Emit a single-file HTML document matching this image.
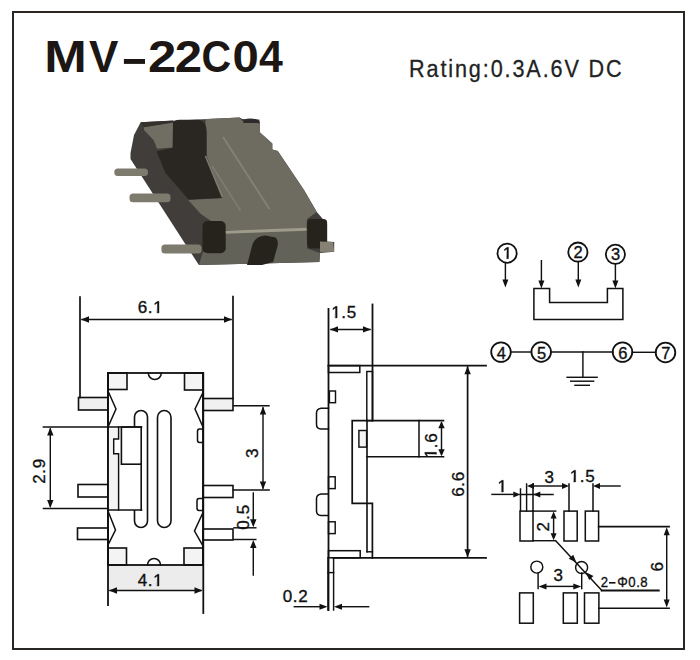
<!DOCTYPE html>
<html><head><meta charset="utf-8">
<style>
html,body{margin:0;padding:0;background:#fff;width:700px;height:660px;overflow:hidden}
svg{display:block}
text{font-family:"Liberation Sans",sans-serif;fill:#111;stroke:none} .one{fill-opacity:0;stroke-opacity:0}
</style></head><body>
<svg width="700" height="660" viewBox="0 0 700 660">
<rect x="13" y="12" width="671" height="637" fill="none" stroke="#2a2624" stroke-width="2"/>
<text x="0" y="0" font-size="45.0" font-weight="bold" style="fill:#1c1714" transform="translate(44.26,72) scale(1.134,1)">M</text>
<text x="0" y="0" font-size="45.0" font-weight="bold" style="fill:#1c1714" transform="translate(89.01,72) scale(0.978,1)">V</text>
<text x="0" y="0" font-size="45.0" font-weight="bold" style="fill:#1c1714" transform="translate(148.03,72) scale(1.133,1)">2</text>
<text x="0" y="0" font-size="45.0" font-weight="bold" style="fill:#1c1714" transform="translate(174.69,72) scale(1.092,1)">2</text>
<text x="0" y="0" font-size="45.0" font-weight="bold" style="fill:#1c1714" transform="translate(201.50,72) scale(0.913,1)">C</text>
<text x="0" y="0" font-size="45.0" font-weight="bold" style="fill:#1c1714" transform="translate(232.45,72) scale(1.050,1)">0</text>
<text x="0" y="0" font-size="45.0" font-weight="bold" style="fill:#1c1714" transform="translate(258.95,72) scale(0.952,1)">4</text>
<rect x="123.9" y="59" width="21.1" height="4.9" fill="#1c1714"/>
<text x="0" y="0" font-size="24" style="fill:#222;stroke:#222;stroke-width:0.3" letter-spacing="2.1" transform="translate(409,76.8) scale(0.9,1)">Rating:0.3A.6V DC</text>
<g id="photo" stroke="none">
<filter id="bl" x="-5%" y="-5%" width="110%" height="110%"><feGaussianBlur stdDeviation="0.7"/></filter>
<g filter="url(#bl)">
<polygon fill="#3f3e3a" points="140.7,122.3 239.6,117.5 242.3,119 259.3,119.5 260,123.6 260,132.5 272.3,143.4 272.3,149.6 277.8,151 304,190 316.8,211.9 324.6,220.9 327.1,224 327.1,241.4 334.2,242 334.2,251.7 320,253 319.4,262 198.9,265.1 130.5,159 130.5,153 134,135"/>
<polygon fill="#6e6c61" points="205.5,119 239.6,117.5 242.3,121 260,123.6 260,132.5 272.3,143.4 272.3,149.6 277.8,151 304,190 316.8,211.9 307,219 306.6,228.6 225,230.5 200.5,213.7 188.2,200 222.3,198 205.5,155"/>
<path fill="#2a2623" d="M172.5,148 L172.5,125 Q173,119.8 180,119.8 L199,119.8 Q206.7,122 206.7,131.7 L206.7,156 L222.3,198 L188.7,199.5 L165.6,173.3 L156.6,151.4 Z"/>
<polygon fill="#6f6d64" points="144,127 173,122.5 172.5,147.5 157.1,148.8 153.7,140.3 144,130"/>
<polygon fill="#34312d" points="140.7,122.3 173,120.5 173,122.5 144,127.2"/>
<path fill="#2f2c29" d="M243,123 Q243,118.5 250,118.5 Q259,118.5 259.5,123 Z"/>
<polygon fill="#646258" points="225,231 306.6,228.6 307.2,248.5 320,253 319.4,262 198.9,265.1 202.5,253"/>
<line x1="225" y1="232.2" x2="306.6" y2="229.2" stroke="#9e9b8b" stroke-width="3"/>
<line x1="223" y1="137" x2="269.4" y2="209" stroke="#848275" stroke-width="1.8"/>
<line x1="212" y1="166" x2="240.6" y2="210.6" stroke="#7e7c70" stroke-width="1.6"/>
<line x1="205.5" y1="156" x2="222.3" y2="197" stroke="#7e7c71" stroke-width="1.6"/>
<rect x="202.5" y="221" width="23.2" height="32.2" rx="5" fill="#28241f"/>
<rect x="307.2" y="218.9" width="19.9" height="29.6" rx="3.5" fill="#28241f"/>
<path fill="#28241f" d="M252.6,244 Q256,236 265.4,235.6 L275.7,237.6 Q278.5,240 277.6,246 L273.1,262 L262,265 L247,265 Z"/>
<rect x="114.3" y="168.4" width="33.7" height="7.6" rx="3.5" fill="#7d7a6e"/>
<rect x="129.5" y="193.6" width="41" height="8.6" rx="3.5" fill="#7d7a6e"/>
<rect x="161.4" y="244.6" width="40.2" height="9" rx="3.5" fill="#7d7a6e"/>
<polygon fill="#858174" points="320,241.4 333,242 334.2,251.7 320,252"/>
</g>
</g>

<g fill="none" stroke="#111" stroke-linecap="square"><rect x="108" y="565" width="95" height="25" fill="#ececec" stroke="none"/><rect x="78.5" y="397.5" width="29.5" height="12.5" stroke-width="1.61" fill="#f0f0f0"/><rect x="78" y="484.5" width="30" height="12.5" stroke-width="1.61" fill="#fff"/><rect x="77.5" y="528" width="30.5" height="11.5" stroke-width="1.61" fill="#fff"/><rect x="203" y="398.5" width="30" height="12.0" stroke-width="1.61" fill="#f0f0f0"/><rect x="203" y="485.5" width="30" height="12.0" stroke-width="1.61" fill="#fff"/><rect x="203" y="529" width="30" height="11" stroke-width="1.61" fill="#fff"/><rect x="108" y="373" width="19" height="16.5" stroke-width="1.61" fill="#f4f4f4"/><rect x="184.5" y="373" width="18.5" height="17" stroke-width="1.61" fill="#f4f4f4"/><rect x="108" y="548" width="18.5" height="17" stroke-width="1.61" fill="#f4f4f4"/><rect x="184" y="548" width="19" height="17" stroke-width="1.61" fill="#f4f4f4"/><rect x="108" y="373" width="95" height="192" stroke-width="1.80" fill="none"/><path d="M148.3,373 A6.5,6.5 0 0 0 161.3,373" stroke-width="1.52"/><path d="M147.5,565 A6.5,6.5 0 0 1 160.5,565" stroke-width="1.52"/><polyline points="108,391 116,409 108,427" stroke-width="1.52" stroke-linejoin="miter"/><polyline points="108,511 115.5,530 108,545" stroke-width="1.52"/><polyline points="203,392.5 195,409 203,427" stroke-width="1.52"/><polyline points="203,512.5 194.5,531 203,546" stroke-width="1.52"/><path d="M134.5,417.0 A6.5,6.5 0 0 1 147.5,417.0 L147.5,521.0 A6.5,6.5 0 0 1 134.5,521.0 Z" stroke-width="1.61"/><path d="M157.5,417.25 A6.75,6.75 0 0 1 171,417.25 L171,520.75 A6.75,6.75 0 0 1 157.5,520.75 Z" stroke-width="1.61"/><path d="M203,429 L199.5,429 Q197.5,429 197.5,431.5 L197.5,440 Q197.5,442.5 199.5,442.5 L203,442.5" stroke-width="1.52"/><path d="M203,498.5 L199,498.5 Q197,498.5 197,501 L197,508 Q197,510.5 199,510.5 L203,510.5" stroke-width="1.52"/><rect x="109" y="427" width="32.2" height="83" fill="#fff" stroke="none"/><path d="M108.5,428.5 L118.6,428.5 L118.6,439 L113.7,439 L113.7,453.5 L118.3,453.5 L118.3,509.5 L108.5,509.5 Z" fill="#f3f3f3" stroke="none"/><line x1="43.5" y1="427" x2="141.5" y2="427" stroke-width="1.71" /><line x1="43.5" y1="508.5" x2="108" y2="508.5" stroke-width="1.52" /><line x1="108" y1="510" x2="141.5" y2="510" stroke-width="1.61" /><polyline points="118.6,427 118.6,439 113.7,439 113.7,453.7 118.6,453.7 118.6,510" stroke-width="1.45"/><rect x="121.4" y="427" width="19.8" height="37.2" stroke-width="1.61" fill="none"/><line x1="141.2" y1="464.2" x2="141.2" y2="510" stroke-width="1.61" /><line x1="80" y1="297" x2="80" y2="397.5" stroke-width="1.71" /><line x1="233" y1="296.5" x2="233" y2="398.5" stroke-width="1.71" /><line x1="82" y1="319.5" x2="231" y2="319.5" stroke-width="1.45" /><path d="M81.0,319.5 L89.0,316.3 L89.0,322.7 Z" fill="#111" stroke="none"/><path d="M232.0,319.5 L224.0,322.7 L224.0,316.3 Z" fill="#111" stroke="none"/><text id="t0" x="150.5" y="313" font-size="17" text-anchor="middle" letter-spacing="0.6" style="stroke:#111;stroke-width:0.35" >6.<tspan class="one">1</tspan></text><g><path transform="translate(153.16,313.00) scale(0.00830,-0.00830)" d="M505,0 L706,0 L706,1409 L540,1409 L197,1170 L197,1000 L505,1217 Z" fill="#111" stroke="#111" stroke-width="42.2"/></g><line x1="50.3" y1="429" x2="50.3" y2="506" stroke-width="1.45" /><path d="M50.3,427.5 L53.5,435.5 L47.1,435.5 Z" fill="#111" stroke="none"/><path d="M50.3,508.0 L47.1,500.0 L53.5,500.0 Z" fill="#111" stroke="none"/><text id="t1" x="45" y="471" font-size="17" text-anchor="middle" letter-spacing="0.6" style="stroke:#111;stroke-width:0.35" transform="rotate(-90 45 471)" >2.9</text><line x1="233.5" y1="405.8" x2="269" y2="405.8" stroke-width="1.45" /><line x1="233.5" y1="490" x2="269" y2="490" stroke-width="1.71" /><line x1="263" y1="408" x2="263" y2="488" stroke-width="1.45" /><path d="M263.0,406.5 L266.2,414.5 L259.8,414.5 Z" fill="#111" stroke="none"/><path d="M263.0,489.5 L259.8,481.5 L266.2,481.5 Z" fill="#111" stroke="none"/><text id="t2" x="257.5" y="453" font-size="17" text-anchor="middle" letter-spacing="0.6" style="stroke:#111;stroke-width:0.35" transform="rotate(-90 257.5 453)" >3</text><line x1="234" y1="527.8" x2="255.8" y2="527.8" stroke-width="1.45" /><line x1="234" y1="539.5" x2="255.8" y2="539.5" stroke-width="1.45" /><line x1="253.3" y1="493" x2="253.3" y2="522" stroke-width="1.45" /><path d="M253.3,527.3 L250.1,519.3 L256.5,519.3 Z" fill="#111" stroke="none"/><line x1="253.3" y1="545" x2="253.3" y2="575" stroke-width="1.45" /><path d="M253.3,540.0 L256.5,548.0 L250.1,548.0 Z" fill="#111" stroke="none"/><text id="t3" x="249" y="517" font-size="17" text-anchor="middle" letter-spacing="0.6" style="stroke:#111;stroke-width:0.35" transform="rotate(-90 249 517)" >0.5</text><line x1="108" y1="373" x2="108" y2="605" stroke-width="1.80" /><line x1="203.3" y1="373" x2="203.3" y2="613" stroke-width="1.80" /><line x1="110" y1="590.5" x2="201" y2="590.5" stroke-width="1.45" /><path d="M109.0,590.5 L117.0,587.3 L117.0,593.7 Z" fill="#111" stroke="none"/><path d="M202.5,590.5 L194.5,593.7 L194.5,587.3 Z" fill="#111" stroke="none"/><text id="t4" x="150.5" y="586" font-size="17" text-anchor="middle" letter-spacing="0.6" style="stroke:#111;stroke-width:0.35" >4.<tspan class="one">1</tspan></text><g><path transform="translate(153.16,586.00) scale(0.00830,-0.00830)" d="M505,0 L706,0 L706,1409 L540,1409 L197,1170 L197,1000 L505,1217 Z" fill="#111" stroke="#111" stroke-width="42.2"/></g></g><g fill="none" stroke="#111" stroke-linecap="square"><line x1="328.5" y1="309" x2="328.5" y2="610" stroke-width="1.80" /><line x1="372.5" y1="304.5" x2="372.5" y2="420.6" stroke-width="1.80" /><line x1="328.5" y1="365.6" x2="486" y2="365.6" stroke-width="1.80" /><line x1="333.6" y1="557.8" x2="486" y2="557.8" stroke-width="1.80" /><rect x="328.5" y="365.6" width="31.3" height="6.9" stroke-width="1.52" fill="none"/><rect x="328.5" y="550.7" width="31.7" height="7.1" stroke-width="1.52" fill="none"/><rect x="366.8" y="371.5" width="5.7" height="49.1" stroke-width="1.45" fill="none"/><polyline points="367,420.6 352.2,420.6 352.2,503.3 372.4,503.3 372.4,557.8" stroke-width="1.71"/><line x1="367" y1="420.6" x2="367" y2="551.8" stroke-width="1.61" /><line x1="367" y1="551.8" x2="372.4" y2="551.8" stroke-width="1.45" /><line x1="367" y1="420.6" x2="443.5" y2="420.6" stroke-width="1.61" /><line x1="367" y1="456.8" x2="443.5" y2="456.8" stroke-width="1.61" /><line x1="419" y1="420.6" x2="419" y2="456.8" stroke-width="1.52" /><rect x="358.9" y="430.5" width="7.7" height="16.6" stroke-width="1.45" fill="#f4f4f4"/><rect x="329.4" y="391" width="6.1" height="11.7" stroke-width="1.45" fill="none"/><rect x="328.5" y="476.8" width="6.7" height="11.8" stroke-width="1.45" fill="none"/><rect x="328.5" y="521.8" width="6.7" height="11.8" stroke-width="1.45" fill="none"/><path d="M328.5,408.2 L321,408.2 Q316.5,409 316.5,413 L316.5,424.5 Q316.5,428.8 321,429 L328.5,429" stroke-width="1.52"/><path d="M328,493.9 L321,493.9 Q316.5,494.7 316.5,498.7 L316.5,511 Q316.5,515.3 321,515.5 L328,515.5" stroke-width="1.52"/><line x1="328" y1="557.8" x2="328" y2="610" stroke-width="1.45" /><line x1="333.6" y1="557.8" x2="333.6" y2="610" stroke-width="1.45" /><line x1="328" y1="572.6" x2="333.6" y2="572.6" stroke-width="1.45" /><line x1="294.3" y1="606.7" x2="320" y2="606.7" stroke-width="1.45" /><path d="M327.5,606.7 L319.5,609.7 L319.5,603.7 Z" fill="#111" stroke="none"/><line x1="341" y1="606.7" x2="368.6" y2="606.7" stroke-width="1.45" /><path d="M334.0,606.7 L342.0,603.7 L342.0,609.7 Z" fill="#111" stroke="none"/><text id="t5" x="295.5" y="601.5" font-size="17" text-anchor="middle" letter-spacing="0.6" style="stroke:#111;stroke-width:0.35" >0.2</text><line x1="331" y1="329.4" x2="370" y2="329.4" stroke-width="1.45" /><path d="M330.0,329.4 L338.0,326.2 L338.0,332.6 Z" fill="#111" stroke="none"/><path d="M371.0,329.4 L363.0,332.6 L363.0,326.2 Z" fill="#111" stroke="none"/><text id="t6" x="344" y="318" font-size="17" text-anchor="middle" letter-spacing="0.6" style="stroke:#111;stroke-width:0.35" ><tspan class="one">1</tspan>.5</text><g><path transform="translate(331.27,318.00) scale(0.00830,-0.00830)" d="M505,0 L706,0 L706,1409 L540,1409 L197,1170 L197,1000 L505,1217 Z" fill="#111" stroke="#111" stroke-width="42.2"/></g><line x1="467.6" y1="367" x2="467.6" y2="556" stroke-width="1.71" /><path d="M467.6,366.2 L470.8,374.2 L464.4,374.2 Z" fill="#111" stroke="none"/><path d="M467.6,557.2 L464.4,549.2 L470.8,549.2 Z" fill="#111" stroke="none"/><text id="t7" x="463.5" y="484" font-size="17" text-anchor="middle" letter-spacing="0.6" style="stroke:#111;stroke-width:0.35" transform="rotate(-90 463.5 484)" >6.6</text><line x1="441.5" y1="423" x2="441.5" y2="454" stroke-width="1.45" /><path d="M441.5,421.2 L444.7,428.2 L438.3,428.2 Z" fill="#111" stroke="none"/><path d="M441.5,456.2 L438.3,449.2 L444.7,449.2 Z" fill="#111" stroke="none"/><text id="t8" x="436.5" y="445.5" font-size="17" text-anchor="middle" letter-spacing="0.6" style="stroke:#111;stroke-width:0.35" transform="rotate(-90 436.5 445.5)" ><tspan class="one">1</tspan>.6</text><g transform="rotate(-90 436.5 445.5)"><path transform="translate(423.77,445.50) scale(0.00830,-0.00830)" d="M505,0 L706,0 L706,1409 L540,1409 L197,1170 L197,1000 L505,1217 Z" fill="#111" stroke="#111" stroke-width="42.2"/></g><circle cx="507.1" cy="253.2" r="9.6" stroke-width="1.80"/><text id="t9" x="507.40000000000003" y="258.7" font-size="16.5" text-anchor="middle" letter-spacing="0" style="stroke:#111;stroke-width:0.35" ><tspan class="one">1</tspan></text><g><path transform="translate(502.81,258.70) scale(0.00806,-0.00806)" d="M505,0 L706,0 L706,1409 L540,1409 L197,1170 L197,1000 L505,1217 Z" fill="#111" stroke="#111" stroke-width="43.4"/></g><circle cx="577.9" cy="252.1" r="9.6" stroke-width="1.80"/><text id="t10" x="578.1999999999999" y="257.6" font-size="16.5" text-anchor="middle" letter-spacing="0" style="stroke:#111;stroke-width:0.35" >2</text><circle cx="615.4" cy="254.3" r="9.6" stroke-width="1.80"/><text id="t11" x="615.6999999999999" y="259.8" font-size="16.5" text-anchor="middle" letter-spacing="0" style="stroke:#111;stroke-width:0.35" >3</text><line x1="505.4" y1="263" x2="505.4" y2="281.5" stroke-width="1.45"/><path d="M505.4,287.5 L502.4,279.5 L508.4,279.5 Z" fill="#111" stroke="none"/><line x1="578.3" y1="262" x2="578.3" y2="281.5" stroke-width="1.45"/><path d="M578.3,287.5 L575.3,279.5 L581.3,279.5 Z" fill="#111" stroke="none"/><line x1="615.4" y1="264" x2="615.4" y2="282.6" stroke-width="1.45"/><path d="M615.4,288.6 L612.4,280.6 L618.4,280.6 Z" fill="#111" stroke="none"/><line x1="541.4" y1="260.7" x2="541.4" y2="282.6" stroke-width="1.45"/><path d="M541.4,288.6 L538.4,280.6 L544.4,280.6 Z" fill="#111" stroke="none"/><polygon points="533.9,288.6 549.6,288.6 549.6,302.5 607.4,302.5 607.4,288.6 622.9,288.6 622.9,319.6 533.9,319.6" stroke-width="1.52"/><circle cx="501" cy="352.1" r="9.8" stroke-width="1.80"/><text id="t12" x="501.3" y="358.90000000000003" font-size="16.5" text-anchor="middle" letter-spacing="0" style="stroke:#111;stroke-width:0.35" >4</text><circle cx="541.2" cy="352" r="9.8" stroke-width="1.80"/><text id="t13" x="541.5" y="358.8" font-size="16.5" text-anchor="middle" letter-spacing="0" style="stroke:#111;stroke-width:0.35" >5</text><circle cx="622.5" cy="352.1" r="9.8" stroke-width="1.80"/><text id="t14" x="622.8" y="358.90000000000003" font-size="16.5" text-anchor="middle" letter-spacing="0" style="stroke:#111;stroke-width:0.35" >6</text><circle cx="665.5" cy="352.5" r="9.8" stroke-width="1.80"/><text id="t15" x="665.8" y="359.3" font-size="16.5" text-anchor="middle" letter-spacing="0" style="stroke:#111;stroke-width:0.35" >7</text><line x1="511" y1="352" x2="531.4" y2="352" stroke-width="1.45" /><line x1="551" y1="352" x2="612.7" y2="352" stroke-width="1.45" /><line x1="632.3" y1="352.3" x2="655.7" y2="352.3" stroke-width="1.45" /><line x1="582.9" y1="352" x2="582.9" y2="377.3" stroke-width="1.45" /><line x1="567.1" y1="377.3" x2="597.1" y2="377.3" stroke-width="1.45" /><line x1="570.7" y1="381.2" x2="593.6" y2="381.2" stroke-width="1.45" /><line x1="575" y1="385.3" x2="589.3" y2="385.3" stroke-width="1.45" /><rect x="520" y="511.1" width="13" height="29.9" stroke-width="1.52" fill="none"/><rect x="564" y="511.1" width="13.2" height="29.9" stroke-width="1.52" fill="none"/><rect x="585.3" y="511.1" width="13.3" height="29.9" stroke-width="1.52" fill="none"/><rect x="519.6" y="592.9" width="13.7" height="30.3" stroke-width="1.52" fill="none"/><rect x="563.3" y="592.9" width="14.0" height="30.3" stroke-width="1.52" fill="none"/><rect x="584.5" y="592.9" width="14.4" height="30.3" stroke-width="1.52" fill="none"/><line x1="520.5" y1="489" x2="520.5" y2="511" stroke-width="1.45" /><line x1="526.6" y1="484" x2="526.6" y2="511" stroke-width="1.45" /><line x1="533" y1="484" x2="533" y2="511" stroke-width="1.52" /><line x1="569" y1="484" x2="569" y2="511" stroke-width="1.52" /><line x1="593" y1="484" x2="593" y2="511" stroke-width="1.52" /><line x1="492" y1="494.4" x2="513" y2="494.4" stroke-width="1.45" /><path d="M520.3,494.4 L513.3,497.4 L513.3,491.4 Z" fill="#111" stroke="none"/><line x1="520" y1="494.4" x2="553" y2="494.4" stroke-width="1.45" /><path d="M533.3,494.4 L540.3,491.4 L540.3,497.4 Z" fill="#111" stroke="none"/><text id="t16" x="502.5" y="492" font-size="17" text-anchor="middle" letter-spacing="0.6" style="stroke:#111;stroke-width:0.35" ><tspan class="one">1</tspan></text><g><path transform="translate(497.47,492.00) scale(0.00830,-0.00830)" d="M505,0 L706,0 L706,1409 L540,1409 L197,1170 L197,1000 L505,1217 Z" fill="#111" stroke="#111" stroke-width="42.2"/></g><line x1="533" y1="486" x2="562" y2="486" stroke-width="1.45" /><path d="M527.0,486.0 L534.0,483.0 L534.0,489.0 Z" fill="#111" stroke="none"/><path d="M569.0,486.0 L562.0,489.0 L562.0,483.0 Z" fill="#111" stroke="none"/><text id="t17" x="549.5" y="483" font-size="17" text-anchor="middle" letter-spacing="0.6" style="stroke:#111;stroke-width:0.35" >3</text><line x1="600" y1="486" x2="620" y2="486" stroke-width="1.45" /><path d="M593.0,486.0 L600.0,483.0 L600.0,489.0 Z" fill="#111" stroke="none"/><text id="t18" x="582.5" y="482" font-size="17" text-anchor="middle" letter-spacing="0.6" style="stroke:#111;stroke-width:0.35" ><tspan class="one">1</tspan>.5</text><g><path transform="translate(569.77,482.00) scale(0.00830,-0.00830)" d="M505,0 L706,0 L706,1409 L540,1409 L197,1170 L197,1000 L505,1217 Z" fill="#111" stroke="#111" stroke-width="42.2"/></g><line x1="533" y1="511.1" x2="555.7" y2="511.1" stroke-width="1.45" /><line x1="533" y1="540.7" x2="555" y2="540.7" stroke-width="1.45" /><line x1="553.6" y1="517" x2="553.6" y2="535" stroke-width="1.45" /><path d="M553.6,511.6 L556.6,518.6 L550.6,518.6 Z" fill="#111" stroke="none"/><path d="M553.6,540.2 L550.6,533.2 L556.6,533.2 Z" fill="#111" stroke="none"/><text id="t19" x="549.5" y="526.4" font-size="17" text-anchor="middle" letter-spacing="0.6" style="stroke:#111;stroke-width:0.35" transform="rotate(-90 549.5 526.4)" >2</text><line x1="598.6" y1="526.6" x2="669.1" y2="526.6" stroke-width="1.61" /><line x1="598.9" y1="608.2" x2="669.1" y2="608.2" stroke-width="1.61" /><line x1="666.7" y1="534" x2="666.7" y2="601" stroke-width="1.45" /><path d="M666.7,527.2 L669.7,535.2 L663.7,535.2 Z" fill="#111" stroke="none"/><path d="M666.7,607.6 L663.7,599.6 L669.7,599.6 Z" fill="#111" stroke="none"/><text id="t20" x="663.5" y="566.4" font-size="17" text-anchor="middle" letter-spacing="0.6" style="stroke:#111;stroke-width:0.35" transform="rotate(-90 663.5 566.4)" >6</text><circle cx="536.8" cy="567.1" r="6" stroke-width="1.45"/><circle cx="581.6" cy="567.4" r="6" stroke-width="1.45"/><line x1="538.1" y1="573" x2="538.1" y2="588.6" stroke-width="1.45" /><line x1="581.7" y1="573" x2="581.7" y2="588.6" stroke-width="1.45" /><line x1="545" y1="586.4" x2="575" y2="586.4" stroke-width="1.45" /><path d="M538.5,586.4 L546.5,583.4 L546.5,589.4 Z" fill="#111" stroke="none"/><path d="M581.3,586.4 L573.3,589.4 L573.3,583.4 Z" fill="#111" stroke="none"/><text id="t21" x="558.6" y="580.7" font-size="17" text-anchor="middle" letter-spacing="0.6" style="stroke:#111;stroke-width:0.35" >3</text><line x1="555.7" y1="540.7" x2="601.8" y2="590.5" stroke-width="1.45" /><path d="M576.4,562.6 L568.8,558.8 L573.2,554.7 Z" fill="#111" stroke="none"/><path d="M585.9,572.2 L593.5,576.0 L589.1,580.1 Z" fill="#111" stroke="none"/><line x1="601.8" y1="590.6" x2="658.7" y2="590.6" stroke-width="1.99" /><text x="0" y="0" font-size="15.5" text-anchor="middle" style="stroke:#111;stroke-width:0.35" transform="translate(604.3,586.8) scale(0.85,1)">2</text><text x="0" y="0" font-size="15.5" text-anchor="middle" style="stroke:#111;stroke-width:0.35" transform="translate(622.5,586.8) scale(0.85,1)">Φ</text><text x="0" y="0" font-size="15.5" text-anchor="middle" style="stroke:#111;stroke-width:0.35" transform="translate(632,586.8) scale(0.85,1)">0</text><text x="0" y="0" font-size="15.5" text-anchor="middle" style="stroke:#111;stroke-width:0.35" transform="translate(638,586.8) scale(0.85,1)">.</text><text x="0" y="0" font-size="15.5" text-anchor="middle" style="stroke:#111;stroke-width:0.35" transform="translate(643.8,586.8) scale(0.85,1)">8</text><rect x="609" y="582" width="6.5" height="1.6" fill="#111" stroke="none"/></g>
</svg>
</body></html>
